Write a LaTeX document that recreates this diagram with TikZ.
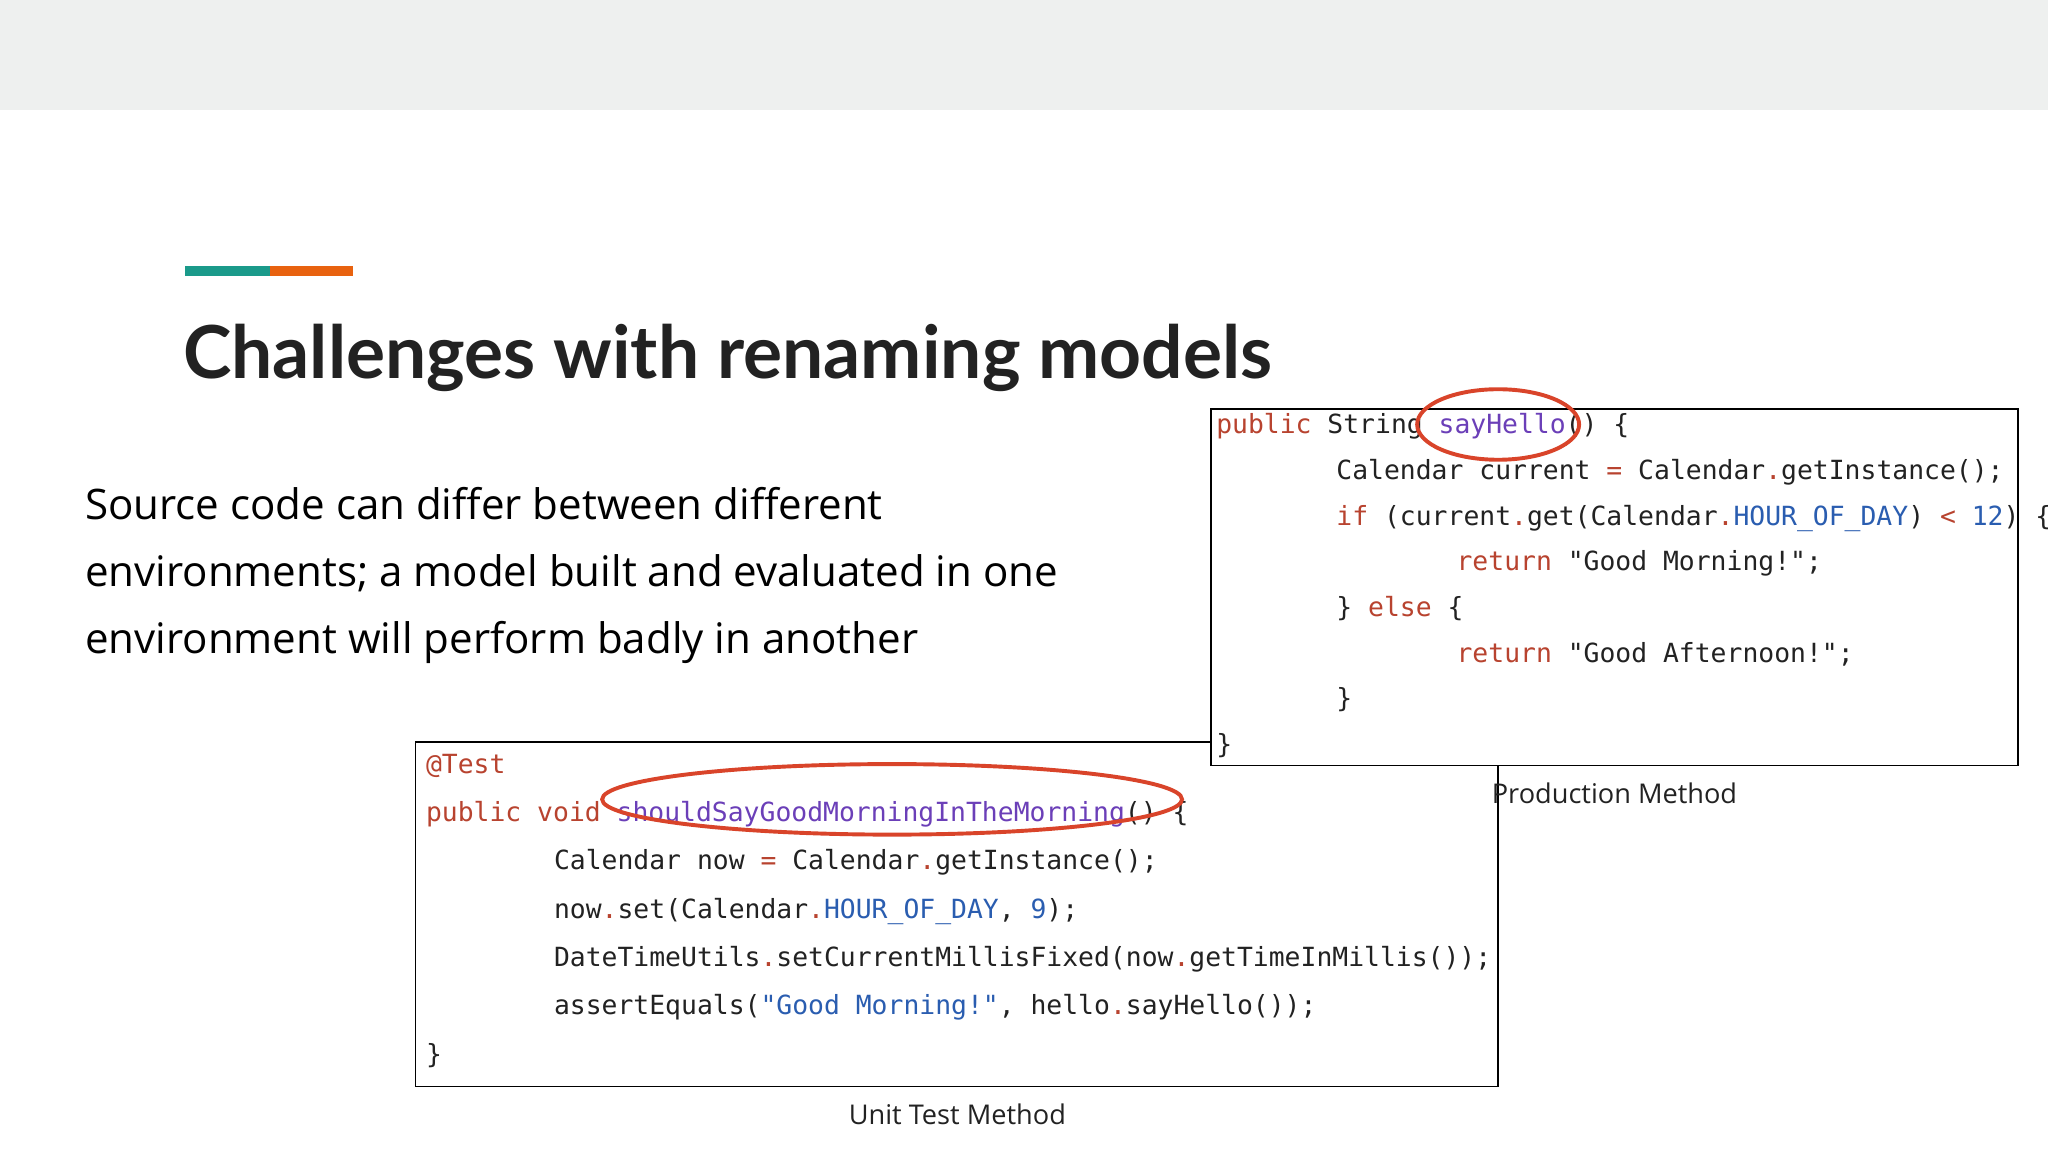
\documentclass[tikz,border=0pt]{standalone}
\usepackage{fontspec}
\setmainfont{Open Sans}
\newfontfamily\titlefont{Lato}
\newfontfamily\codefont{DejaVu Sans Mono}
\definecolor{band}{HTML}{EEF0EF}
\definecolor{teal}{HTML}{1A9A8A}
\definecolor{orng}{HTML}{E8620F}
\definecolor{kw}{HTML}{B8432F}
\definecolor{fn}{HTML}{6B3FB8}
\definecolor{cst}{HTML}{2A5DB0}
\definecolor{txt}{HTML}{222222}
\definecolor{ring}{HTML}{D9442A}
\newcommand{\K}[1]{\textcolor{kw}{#1}}
\newcommand{\F}[1]{\textcolor{fn}{#1}}
\newcommand{\C}[1]{\textcolor{cst}{#1}}
\begin{document}
\begin{tikzpicture}[x=1pt,y=-1pt,
  codeline/.style={anchor=base west,inner sep=0pt,font=\codefont\fontsize{20.2}{22}\selectfont,text=txt},
  codebox/.style={draw=black,line width=1.2pt,fill=white},
  ringstyle/.style={draw=ring,line width=3pt},
  caption/.style={font=\fontsize{20.8}{24}\selectfont,text=txt,inner sep=0pt}]
\useasboundingbox (0,0) rectangle (1568,882);
\fill[white] (0,0) rectangle (1568,882);
\fill[band] (0,0) rectangle (1568,84);
\fill[teal] (142,204) rectangle (207,211);
\fill[orng] (207,204) rectangle (270,211);
\node[anchor=base west,inner sep=0pt,font=\titlefont\bfseries\fontsize{56}{64}\selectfont,text=txt] (title) at (140,290) {Challenges with renaming models};
\node[anchor=base west,inner sep=0pt,align=left,font=\fontsize{32.2}{51}\selectfont,text=black] (body) at (65,500)
 {Source code can differ between different\\environments; a model built and evaluated in one\\environment will perform badly in another};
% unit test box
\draw[codebox] (318,568) rectangle (1147,832);
\node[codeline] (u1) at (326,592) {\K{@Test}};
\node[codeline] (u2) at (326,629) {\K{public void} \F{shouldSayGoodMorningInTheMorning}() \{};
\node[codeline] (u3) at (424,666) {Calendar now \K{=} Calendar\K{.}getInstance();};
\node[codeline] (u4) at (424,703) {now\K{.}set(Calendar\K{.}\C{HOUR\_OF\_DAY}, \C{9});};
\node[codeline] (u5) at (424,740) {DateTimeUtils\K{.}setCurrentMillisFixed(now\K{.}getTimeInMillis());};
\node[codeline] (u6) at (424,777) {assertEquals(\C{"Good Morning!"}, hello\K{.}sayHello());};
\node[codeline] (u7) at (326,814) {\}};
\draw[ringstyle] (683,612) ellipse [x radius=222,y radius=27];
\node[caption] (ucap) at (733,853) {Unit Test Method};
% production box
\draw[codebox] (927,313) rectangle (1545,586);
\node[codeline] (p1) at (931,332) {\K{public} String \F{sayHello}() \{};
\node[codeline] (p2) at (1023,367) {Calendar current \K{=} Calendar\K{.}getInstance();};
\node[codeline] (p3) at (1023,402) {\K{if} (current\K{.}get(Calendar\K{.}\C{HOUR\_OF\_DAY}) \K{<} \C{12}) \{};
\node[codeline] (p4) at (1115,437) {\K{return} "Good Morning!";};
\node[codeline] (p5) at (1023,472) {\} \K{else} \{};
\node[codeline] (p6) at (1115,507) {\K{return} "Good Afternoon!";};
\node[codeline] (p7) at (1023,542) {\}};
\node[codeline] (p8) at (931,577) {\}};
\draw[ringstyle] (1147,325) ellipse [x radius=62,y radius=27];
\node[caption,anchor=west] (pcap) at (1142,607) {Production Method};
\end{tikzpicture}
\end{document}
